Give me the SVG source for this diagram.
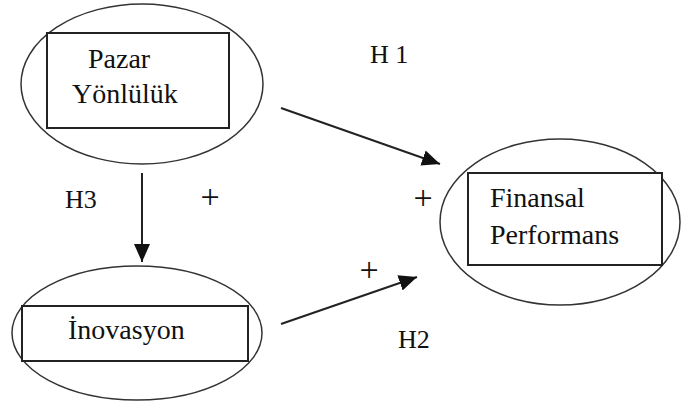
<svg xmlns="http://www.w3.org/2000/svg" width="686" height="401" viewBox="0 0 686 401">
<style>
.el{fill:none;stroke:#333;stroke-width:1.5}
.bx{fill:#fff;stroke:#222;stroke-width:2}
.t{font-family:'Liberation Serif','Times New Roman','DejaVu Serif',serif;font-size:28px;fill:#111}
.h{font-family:'Liberation Serif','Times New Roman','DejaVu Serif',serif;font-size:26px;fill:#111}
.p{font-family:'Liberation Serif','Times New Roman','DejaVu Serif',serif;font-size:34px;fill:#111}
.c{stroke:#222;stroke-width:2;fill:none}
</style>
<defs>
<marker id="ah2" viewBox="0 0 18 18" refX="18" refY="9" markerWidth="18" markerHeight="18" orient="auto" markerUnits="userSpaceOnUse">
<path d="M0,1 L18,9 L0,17 z" fill="#111"/>
</marker>
</defs>
<rect width="686" height="401" fill="#fff"/>
<g id="pazar">
<ellipse class="el" cx="142" cy="84" rx="121" ry="80"/>
<rect class="bx" x="47" y="33" width="182" height="95"/>
<text class="t" x="88" y="68">Pazar</text>
<text class="t" x="72" y="103">Yönlülük</text>
</g>
<g id="inovasyon">
<ellipse class="el" cx="137" cy="333" rx="125" ry="67"/>
<rect class="bx" x="22" y="306" width="226" height="55"/>
<text class="t" x="68" y="339">İnovasyon</text>
</g>
<g id="finansal">
<ellipse class="el" cx="560" cy="222" rx="120" ry="83"/>
<rect class="bx" x="468" y="173" width="194" height="92"/>
<text class="t" x="490" y="207">Finansal</text>
<text class="t" x="490" y="244">Performans</text>
</g>
<g id="connectors">
<line class="c" x1="142" y1="173" x2="142" y2="262" marker-end="url(#ah2)"/>
<line class="c" x1="281" y1="108" x2="440" y2="164" marker-end="url(#ah2)"/>
<line class="c" x1="281" y1="324" x2="417" y2="277" marker-end="url(#ah2)"/>
</g>
<g id="labels">
<text class="h" x="370" y="63">H 1</text>
<text class="h" x="65" y="208">H3</text>
<text class="h" x="398" y="348">H2</text>
<text class="p" x="210" y="208" text-anchor="middle">+</text>
<text class="p" x="423" y="209" text-anchor="middle">+</text>
<text class="p" x="369" y="281" text-anchor="middle">+</text>
</g>
</svg>
